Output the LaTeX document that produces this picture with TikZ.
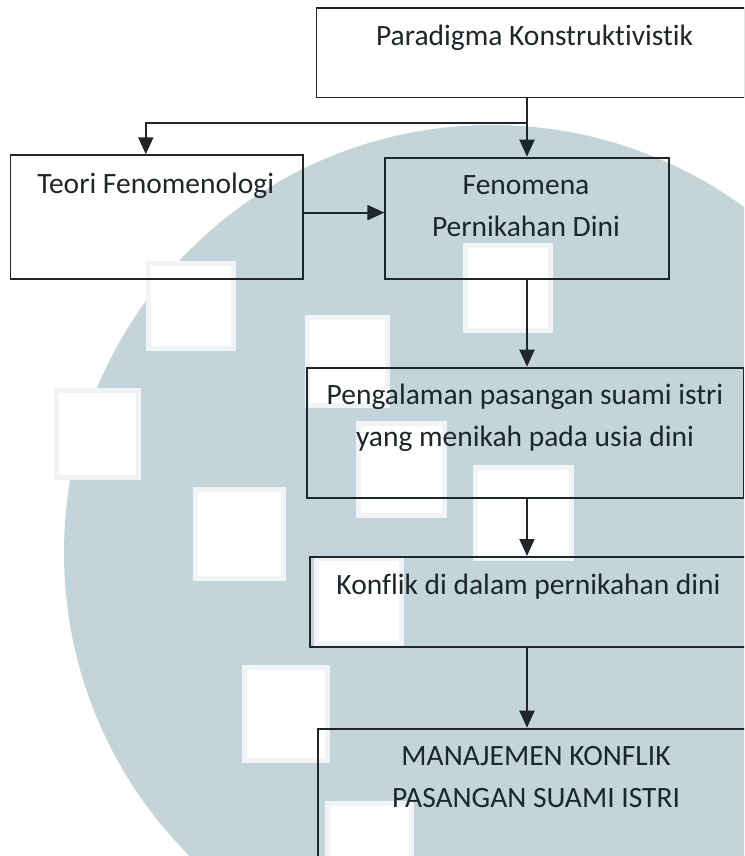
\documentclass[tikz,border=0pt]{standalone}
\usepackage{fontspec}
\setmainfont{Carlito}[Ligatures=NoCommon]
\usetikzlibrary{arrows.meta}
\definecolor{umnblue}{HTML}{C3D4DB}
\definecolor{linegray}{HTML}{1E2629}

\begin{document}
\begin{tikzpicture}[x=1pt,y=-1pt,
		box/.style={draw=linegray, line width=1.8pt, anchor=north west, inner sep=0pt},
		boxtext/.style={anchor=base, text=linegray, align=center,
			font=\fontsize{29.5}{42}\selectfont},
		flow/.style={-{Triangle[width=15pt,length=17pt]}, line width=1.9pt, draw=linegray}]
	\clip (0,0) rectangle (744,856);
	% watermark
	\fill[umnblue] (492,553) circle[radius=428];
	\foreach \xa/\ya/\xb/\yb in {148/263/233/348, 56/390/138/477, 465/245/550/330,
			307/317/387/405, 358/423/444/515, 475/467/571/558, 195/489/283/578,
			316/558/401/643, 244/667/327/760, 327/803/411/880}
		\filldraw[fill=white, draw=umnblue!25, line width=5pt] (\xa,\ya) rectangle (\xb,\yb);
	% boxes
	\node[box, minimum width=428pt, minimum height=89.4pt] (paradigma) at (315.6,7.3) {};
	\node[box, minimum width=292.8pt, minimum height=124pt] (teori) at (9.5,154.3) {};
	\node[box, minimum width=283.4pt, minimum height=121.6pt] (fenomena) at (384.4,156.7) {};
	\node[box, minimum width=436.5pt, minimum height=130pt] (pengalaman) at (306,366.7) {};
	\node[box, minimum width=450pt, minimum height=89.7pt] (konflik) at (309.4,556) {};
	\node[box, minimum width=450pt, minimum height=150pt] (manajemen) at (317,727.7) {};
	% texts (base = last line)
	\node[boxtext] (paradigmatext) at (534.6,46) {Paradigma Konstruktivistik};
	\node[boxtext] (teoritext) at (155.7,193.3) {Teori Fenomenologi};
	\node[boxtext] (fenomenatext) at (526,236.7) {Fenomena\\Pernikahan Dini};
	\node[boxtext] (pengalamantext) at (525,446.7) {Pengalaman pasangan suami istri\\yang menikah pada usia dini};
	\node[boxtext] (konfliktext) at (528.5,594.3) {Konflik di dalam pernikahan dini};
	\node[boxtext] (manajementext) at (536,807) {MANAJEMEN KONFLIK\\PASANGAN SUAMI ISTRI};
	% arrows
	\coordinate (split) at (fenomena.north |- 0,122.7);
	\draw[flow] (fenomena.north |- paradigma.south) -- (fenomena.north);
	\draw[flow] (split) -| ([xshift=-11pt]teori.north);
	\draw[flow] ([yshift=4.6pt]teori.east) -- ([yshift=4.6pt]teori.east -| fenomena.west);
	\draw[flow] (fenomena.south) -- (fenomena.south |- pengalaman.north);
	\draw[flow] (fenomena.south |- pengalaman.south) -- (fenomena.south |- konflik.north);
	\draw[flow] (fenomena.south |- konflik.south) -- (fenomena.south |- manajemen.north);
\end{tikzpicture}
\end{document}
